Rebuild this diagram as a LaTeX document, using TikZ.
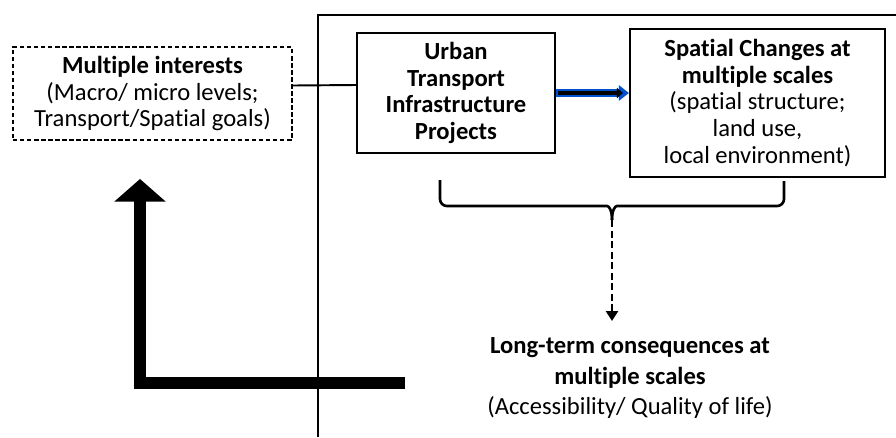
\documentclass[tikz,border=0pt]{standalone}
\usepackage{fontspec}
\setmainfont{Carlito}[RawFeature=-liga]
\usetikzlibrary{positioning, arrows.meta}

\tikzset{
  box/.style={draw, line width=1.2pt, align=center, inner sep=0pt,
    font=\fontsize{14}{15.3}\selectfont},
  dashbox/.style={box, line width=0.7pt, dash pattern=on 2.5pt off 1.5pt},
  outcome/.style={align=center, inner sep=0pt, font=\fontsize{14}{17.6}\selectfont},
}

\begin{document}
\begin{tikzpicture}[x=0.02cm, y=-0.02cm]
    \useasboundingbox (0,0) rectangle (896,437);

    % frame of the project side
    \draw[line width=0.8pt] (318,437) -- (318,15) -- (896,15);

    % boxes
    \node[dashbox, minimum width=5.58cm, minimum height=1.86cm] (interests) at (152.5,93.5)
        {\textbf{Multiple interests}\\(Macro/ micro levels;\\Transport/Spatial goals)};
    \node[box, minimum width=3.96cm, minimum height=2.4cm] (projects) at (456,93)
        {\textbf{Urban}\\\textbf{Transport}\\\textbf{Infrastructure}\\\textbf{Projects}};
    \node[box, minimum width=5.1cm, minimum height=2.96cm] (changes) at (757.5,103)
        {\textbf{Spatial Changes at}\\\textbf{multiple scales}\\(spatial structure;\\land use,\\local environment)};
    \node[outcome] (consequences) at (630,378)
        {\textbf{Long-term consequences at}\\\textbf{multiple scales}\\(Accessibility/ Quality of life)};

    % links
    \draw[line width=1.1pt] ([yshift=0.16cm]interests.east) -- ([yshift=0.16cm]projects.west);
    \draw[line width=4.2pt, blue!60!cyan!80!black, -{Triangle[length=0.2cm, width=0.3cm]}]
        (projects.east) -- (changes.west |- projects.east);
    \draw[line width=2.8pt, black, shorten >=0.12cm, -{Triangle[length=0.12cm, width=0.2cm]}]
        ([xshift=0.04cm]projects.east) -- (changes.west |- projects.east);

    % brace under both boxes
    \coordinate (tip) at (612,220);
    \draw[line width=1.5pt, rounded corners=0.14cm]
        (440,180) |- (600,206) .. controls (609,206) and (612,210) .. (tip);
    \draw[line width=1.5pt, rounded corners=0.14cm]
        (784,181) |- (624,206) .. controls (615,206) and (612,210) .. (tip);
    \draw[line width=1.5pt, dash pattern=on 4pt off 2pt, -{Triangle[length=0.2cm, width=0.24cm]}]
        (tip) -- (612,321);

    % feedback arrow
    \coordinate (loop) at (405,383);
    \coordinate (corner) at (140,383);
    \draw[line width=6.8pt, -{Triangle[length=0.45cm, width=1.0cm]}]
        (loop) -- (corner) -- (140,179);
\end{tikzpicture}
\end{document}
